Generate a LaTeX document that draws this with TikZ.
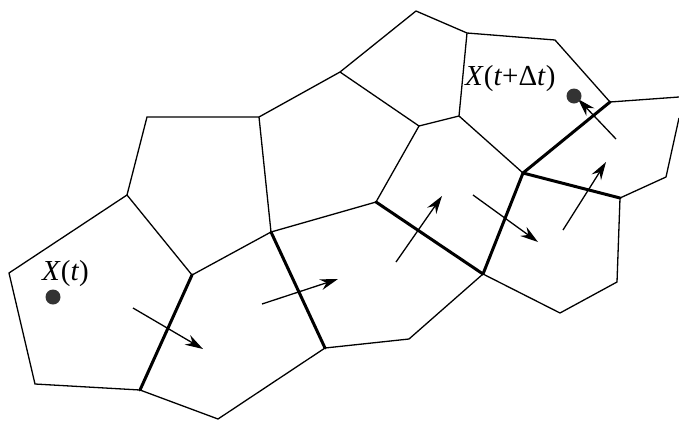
\documentclass[tikz,border=0pt]{standalone}
\usepackage{fontspec}
\setmainfont{Liberation Serif}
\usetikzlibrary{arrows.meta}
\begin{document}
\begin{tikzpicture}[x=1pt,y=-1pt,
  thinedge/.style={line width=1.3pt,line join=miter},
  thickedge/.style={line width=3pt,line cap=round},
  flow/.style={line width=1.3pt,-{Stealth[length=18pt,width=11pt,inset=6pt]}},
  particle/.style={circle,fill=black!80,inner sep=0pt,minimum size=15pt},
  lab/.style={inner sep=0pt,anchor=base west,font=\fontsize{29}{29}\selectfont}]
\useasboundingbox (0,0) rectangle (679,421);
% vertices
\coordinate (A) at (127,195);
\coordinate (B) at (9,273);
\coordinate (C) at (35,384);
\coordinate (D) at (140,390);
\coordinate (E) at (192,275);
\coordinate (F) at (147,117);
\coordinate (G) at (259,117);
\coordinate (H) at (340,72);
\coordinate (J) at (416,11);
\coordinate (K) at (467,33);
\coordinate (L) at (459,116);
\coordinate (M) at (419,126);
\coordinate (I) at (376,202);
\coordinate (N) at (271,232);
\coordinate (P) at (325,348);
\coordinate (Q) at (409,339);
\coordinate (O) at (483,274);
\coordinate (X) at (523,173);
\coordinate (R) at (555,40);
\coordinate (S) at (610,102);
\coordinate (S2) at (679,97);
\coordinate (U) at (620,198);
\coordinate (T) at (666,177);
\coordinate (T2) at (679,118);
\coordinate (V) at (617,282);
\coordinate (W) at (560,313);
\coordinate (Bt) at (218,419);
% thin edges
\draw[thinedge] (A) -- (B) -- (C) -- (D) -- (Bt) -- (P) -- (Q) -- (O) -- (W) -- (V) -- (U) -- (T) -- (T2);
\draw[thinedge] (A) -- (E) -- (N) -- (G) -- (F) -- (A);
\draw[thinedge] (G) -- (H) -- (J) -- (K) -- (R) -- (S) -- (S2);
\draw[thinedge] (H) -- (M) -- (L) -- (K);
\draw[thinedge] (M) -- (I) -- (N);
\draw[thinedge] (L) -- (X);
% thick edges
\draw[thickedge] (E) -- (D);
\draw[thickedge] (N) -- (P);
\draw[thickedge] (I) -- (O);
\draw[thickedge] (S) -- (X) -- (O);
\draw[thickedge] (X) -- (U);
% arrows
\coordinate (a1s) at (133,308); \coordinate (a1e) at (203,349);
\coordinate (a2s) at (262,304); \coordinate (a2e) at (338,279);
\coordinate (a3s) at (396,262); \coordinate (a3e) at (442,196);
\coordinate (a4s) at (473,195); \coordinate (a4e) at (538,242);
\coordinate (a5s) at (563,230); \coordinate (a5e) at (606,162);
\coordinate (a6s) at (616,139); \coordinate (a6e) at (578,99);
\draw[flow] (a1s) -- (a1e);
\draw[flow] (a2s) -- (a2e);
\draw[flow] (a3s) -- (a3e);
\draw[flow] (a4s) -- (a4e);
\draw[flow] (a5s) -- (a5e);
\draw[flow] (a6s) -- (a6e);
% particles
\node[particle] (p0) at (53,297) {};
\node[particle] (p1) at (574,96) {};
\node[lab] (l0) at (42,280) {\textit{X}(\textit{t})};
\node[lab] (l1) at (465,85) {\textit{X}(\textit{t}+Δ\textit{t})};
\end{tikzpicture}
\end{document}
